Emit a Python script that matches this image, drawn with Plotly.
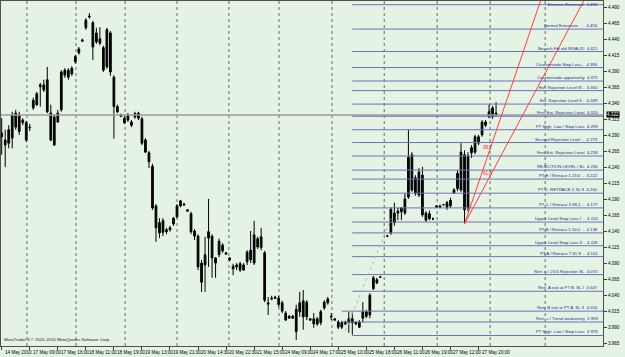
import plotly.graph_objects as go

# ---------------- data ----------------
open_ = [4.294,4.283,4.278,4.286,4.325,4.296,4.314,4.310,4.302,4.333,4.338,4.366,4.369,4.377,4.325,4.319,4.311,4.330,4.384,4.392,
         4.386,4.405,4.419,4.437,4.458,4.475,4.466,4.436,4.441,4.427,4.397,4.450,4.381,4.335,4.322,4.317,4.314,4.311,4.319,4.325,
         4.316,4.283,4.263,4.242,4.180,4.138,4.157,4.140,4.143,4.152,4.163,4.180,4.183,4.174,4.168,4.141,4.133,4.091,4.088,4.130,
         4.133,4.099,4.104,4.119,4.107,4.099,4.086,4.085,4.090,4.080,4.093,4.111,4.091,4.129,4.115,4.107,4.029,4.035,4.038,4.036,
         4.029,4.013,4.005,4.008,4.019,4.015,4.007,4.030,4.004,4.004,3.996,3.998,4.021,4.029,4.008,4.004,3.999,3.991,3.999,3.998,
         4.004,3.996,3.999,4.005,4.008,4.010,4.051,4.065,4.069,None,4.133,4.138,4.169,4.169,4.171,4.169,4.194,4.260,4.224,4.197,
         4.228,4.169,4.160,4.160,4.178,4.180,4.182,4.178,4.180,4.200,4.207,4.205,4.260,4.177,4.263,4.264,4.278,4.291,4.306,4.319,
         4.319,4.325]
high = [4.317,4.299,4.306,4.327,4.330,4.327,4.317,4.313,4.308,4.349,4.358,4.372,4.377,4.397,4.338,4.322,4.330,4.392,4.395,4.395,
        4.398,4.416,4.428,4.441,4.473,4.481,4.469,4.458,4.459,4.430,4.458,4.453,4.384,4.338,4.324,4.320,4.325,4.314,4.327,4.327,
        4.319,4.286,4.266,4.246,4.183,4.161,4.161,4.146,4.149,4.163,4.183,4.189,4.185,4.175,4.171,4.144,4.136,4.096,4.132,4.191,
        4.136,4.100,4.129,4.122,4.108,4.100,4.090,4.091,4.093,4.091,4.111,4.141,4.157,4.132,4.146,4.110,4.038,4.040,4.040,4.040,
        4.032,4.016,4.010,4.010,4.026,4.046,4.049,4.033,4.005,4.013,4.007,4.018,4.033,4.038,4.013,4.005,4.002,4.001,4.001,4.015,
        4.015,3.999,4.002,4.030,4.018,4.044,4.071,4.068,4.071,None,4.135,4.178,4.185,4.177,4.178,4.200,4.299,4.264,4.228,4.239,
        4.241,4.172,4.173,4.162,4.181,4.182,4.183,4.188,4.193,4.208,4.236,4.278,4.267,4.264,4.275,4.291,4.291,4.314,4.314,4.338,
        4.336,4.342]
low = [4.260,4.241,4.270,4.270,4.299,4.291,4.306,4.280,4.297,4.330,4.336,4.335,4.358,4.325,4.281,4.274,4.310,4.327,4.380,4.377,
       4.383,4.402,4.416,4.436,4.455,4.472,4.408,4.433,4.431,4.389,4.394,4.383,4.285,4.325,4.319,4.308,4.311,4.303,4.316,4.314,
       4.275,4.263,4.239,4.174,4.124,4.130,4.133,4.136,4.140,4.149,4.161,4.178,4.180,4.171,4.136,4.127,4.080,4.046,4.046,4.085,
       4.068,4.068,4.100,4.107,4.104,4.094,4.072,4.080,4.077,4.079,4.088,4.091,4.088,4.113,4.111,4.030,4.010,4.033,4.035,4.022,
       4.013,4.001,4.004,4.004,3.971,4.007,3.987,4.002,4.001,3.990,3.993,3.994,4.018,4.026,4.002,4.001,3.988,3.988,3.994,3.982,
       3.979,3.994,3.990,3.999,4.005,4.005,4.049,4.058,4.068,None,4.132,4.135,4.149,4.158,4.158,4.166,4.191,4.202,4.196,4.194,
       4.163,4.155,4.158,4.158,4.177,4.178,4.181,4.174,4.177,4.199,4.203,4.202,4.152,4.171,4.255,4.261,4.275,4.288,4.303,4.317,
       4.316,4.319]
close = [4.288,4.275,4.299,4.322,4.303,4.322,4.310,4.283,4.303,4.345,4.355,4.369,4.361,4.327,4.283,4.275,4.325,4.389,4.392,4.381,
         4.395,4.413,4.425,4.439,4.470,4.476,4.428,4.450,4.434,4.392,4.455,4.389,4.335,4.327,4.320,4.310,4.322,4.306,4.324,4.317,
         4.278,4.264,4.249,4.177,4.146,4.154,4.139,4.143,4.146,4.161,4.180,4.188,4.182,4.172,4.140,4.133,4.085,4.061,4.104,4.140,
         4.099,4.091,4.125,4.110,4.105,4.096,4.082,4.088,4.080,4.088,4.108,4.096,4.135,4.116,4.132,4.033,4.027,4.036,4.036,4.026,
         4.016,4.002,4.008,4.005,3.984,4.029,4.032,4.007,4.002,3.996,4.004,4.015,4.030,4.035,4.007,4.002,3.991,3.998,3.996,4.004,
         3.998,3.999,3.991,4.015,4.015,4.041,4.068,4.060,4.069,None,4.133,4.175,4.154,4.172,4.177,4.191,4.256,4.205,4.200,4.233,
         4.166,4.158,4.168,4.160,4.180,4.178,4.182,4.185,4.189,4.205,4.231,4.264,4.174,4.258,4.271,4.288,4.288,4.311,4.311,4.327,
         4.333,4.322]
bars = list(range(len(open_)))

date_labels = ["14 May 2010", "17 May 09:00", "17 May 16:00", "18 May 11:00", "18 May 19:00", "19 May 13:00",
               "19 May 21:00", "20 May 14:30", "20 May 22:30", "21 May 15:00", "24 May 09:00", "24 May 17:00",
               "25 May 10:00", "25 May 18:00", "26 May 11:00", "26 May 19:00", "27 May 12:00", "27 May 20:00"]
date_bars = [8 * k for k in range(len(date_labels))]

price_ticks = [3.965, 3.990, 4.015, 4.040, 4.065, 4.090, 4.115, 4.140, 4.165, 4.190, 4.215, 4.240, 4.265,
               4.290, 4.315, 4.340, 4.365, 4.390, 4.415, 4.440, 4.465, 4.490]

level_names = ["Extreme Extension", "Normal Extension    .", "Bearish Fib old INVALID", "Countertrade Stop Loss -",
               "Countertrade opportunity", "Ext. Rejection Level III -", "Ext. Rejection Level II -",
               "First Ext. Rejection Level", "PT High  Low / Stop Loss", "Second Rejection Level  -",
               "First Ext. Rejection Level", "REJECTION LEVEL / SL", "PT E / Retrace 1 23.6  -",
               "PT D  RETRACE 2 30.9", "PT C / Retrace 3 38.2  -", "Upper Level Stop Loss I  -",
               "PT B / Retrace 5 50.0  -", "Upper Level Stop Loss II -", "PT A / Retrace 7 61.8  -",
               "Retr. a / 23.6 Rejection SL", "Retr. A exit at PT B  SL I", "Retr. B exit at PT A  SL II",
               "Retr. c / Trend weakening", "PT High  Low / Stop Loss"]
level_prices = [4.494, 4.456, 4.421, 4.396, 4.375, 4.360, 4.339, 4.320, 4.299, 4.279, 4.258, 4.236, 4.222,
                4.200, 4.177, 4.155, 4.138, 4.118, 4.101, 4.073, 4.047, 4.016, 3.999, 3.978]
level_start = [100] * 21 + [97, 97, 100]

grid_bars = [7.2, 21.2, 35.2, 50.0, 64.8, 79.1, 94.2, 109.1, 124.2, 139.3, 155.0]

current_price = 4.322

fan_anchor = (132, 4.152)
fan_ends = [(154.0, 4.505), (166.5, 4.505)]
fan_labels = ["38.2", "61.8"]
fan_label_pos = [(140.4, 4.272), (140.4, 4.230)]

trend_x = [98, 111]
trend_y = [3.985, 4.160]

# ---------------- figure ----------------
BG = "#E4F3E4"
fig = go.Figure()

# price (bid) line
fig.add_trace(go.Scatter(x=[-5, 180], y=[current_price, current_price], mode="lines",
                         line=dict(color="#9C9C9C", width=1.5), hoverinfo="skip", showlegend=False))

# level lines
for nm, p, s in zip(level_names, level_prices, level_start):
    fig.add_trace(go.Scatter(x=[s, 180], y=[p, p], mode="lines",
                             line=dict(color="#7070B8", width=1), hoverinfo="skip", showlegend=False))

# faint dotted trend line
fig.add_trace(go.Scatter(x=trend_x, y=trend_y, mode="lines",
                         line=dict(color="#B4B4B4", width=1, dash="dot"), hoverinfo="skip", showlegend=False))

# fan lines
for ex, ey in fan_ends:
    fig.add_trace(go.Scatter(x=[fan_anchor[0], ex], y=[fan_anchor[1], ey], mode="lines",
                             line=dict(color="#FF4040", width=1), hoverinfo="skip", showlegend=False))

fig.add_trace(go.Candlestick(x=bars, open=open_, high=high, low=low, close=close,
                             increasing=dict(line=dict(color="#000000", width=1), fillcolor="#000000"),
                             decreasing=dict(line=dict(color="#000000", width=1), fillcolor="#000000"),
                             whiskerwidth=0, showlegend=False, hoverinfo="skip"))

shapes = []
for gb in grid_bars:
    shapes.append(dict(type="line", xref="x", yref="paper", x0=gb, x1=gb, y0=0, y1=1,
                       line=dict(color="#6A6A6A", width=1, dash="dot"), layer="below"))

annotations = []
for i, (nm, p) in enumerate(zip(level_names, level_prices)):
    annotations.append(dict(x=170.6, y=p, xref="x", yref="y", text=f"{nm}  {p:.3f}", showarrow=False,
                            xanchor="right", yanchor="middle" if i == 0 else "bottom",
                            yshift=0 if i == 0 else -1,
                            font=dict(family="Liberation Sans", size=4.3, color="#2A2A8C")))
for lbl, (lx, ly) in zip(fan_labels, fan_label_pos):
    annotations.append(dict(x=lx, y=ly, xref="x", yref="y", text=lbl, showarrow=False,
                            xanchor="right", yanchor="middle",
                            font=dict(family="Liberation Sans", size=4.5, color="#FF2020")))
for lbl, b in zip(date_labels, date_bars):
    annotations.append(dict(x=b, y=0, xref="x", yref="paper", text=lbl, showarrow=False,
                            xanchor="left", yanchor="top", xshift=1, yshift=-2,
                            font=dict(family="Liberation Sans", size=4.6, color="#000000")))
annotations.append(dict(x=1.005, y=current_price, xref="paper", yref="y", text=f"{current_price:.3f}",
                        showarrow=False, xanchor="left", yanchor="middle", bgcolor="#000000",
                        borderpad=0, font=dict(family="Liberation Sans", size=4.6, color="#FFFFFF")))
annotations.append(dict(x=0.002, y=0.005, xref="paper", yref="paper",
                        text="MetaTrader 4 \u00a9 2001-2010 MetaQuotes Software Corp.", showarrow=False,
                        xanchor="left", yanchor="bottom",
                        font=dict(family="Liberation Sans", size=4.3, color="#202020")))

fig.update_layout(
    width=625, height=357,
    margin=dict(l=1, r=22, t=1, b=11),
    paper_bgcolor=BG, plot_bgcolor=BG,
    shapes=shapes, annotations=annotations,
    xaxis=dict(range=[-0.2, 171.5], showgrid=False, zeroline=False, rangeslider=dict(visible=False),
               tickvals=date_bars, ticks="outside", ticklen=3, tickcolor="#404040", showticklabels=False,
               showline=True, linecolor="#505050", linewidth=1, mirror=True),
    yaxis=dict(range=[3.9616, 4.4998], side="right", showgrid=False, zeroline=False,
               tickvals=price_ticks, ticktext=[f"{t:.3f}" for t in price_ticks],
               ticks="outside", ticklen=3, tickcolor="#404040",
               tickfont=dict(family="Liberation Sans", size=4.6, color="#000000"),
               showline=True, linecolor="#505050", linewidth=1, mirror=True),
    showlegend=False,
)

fig.write_html("out.html")
